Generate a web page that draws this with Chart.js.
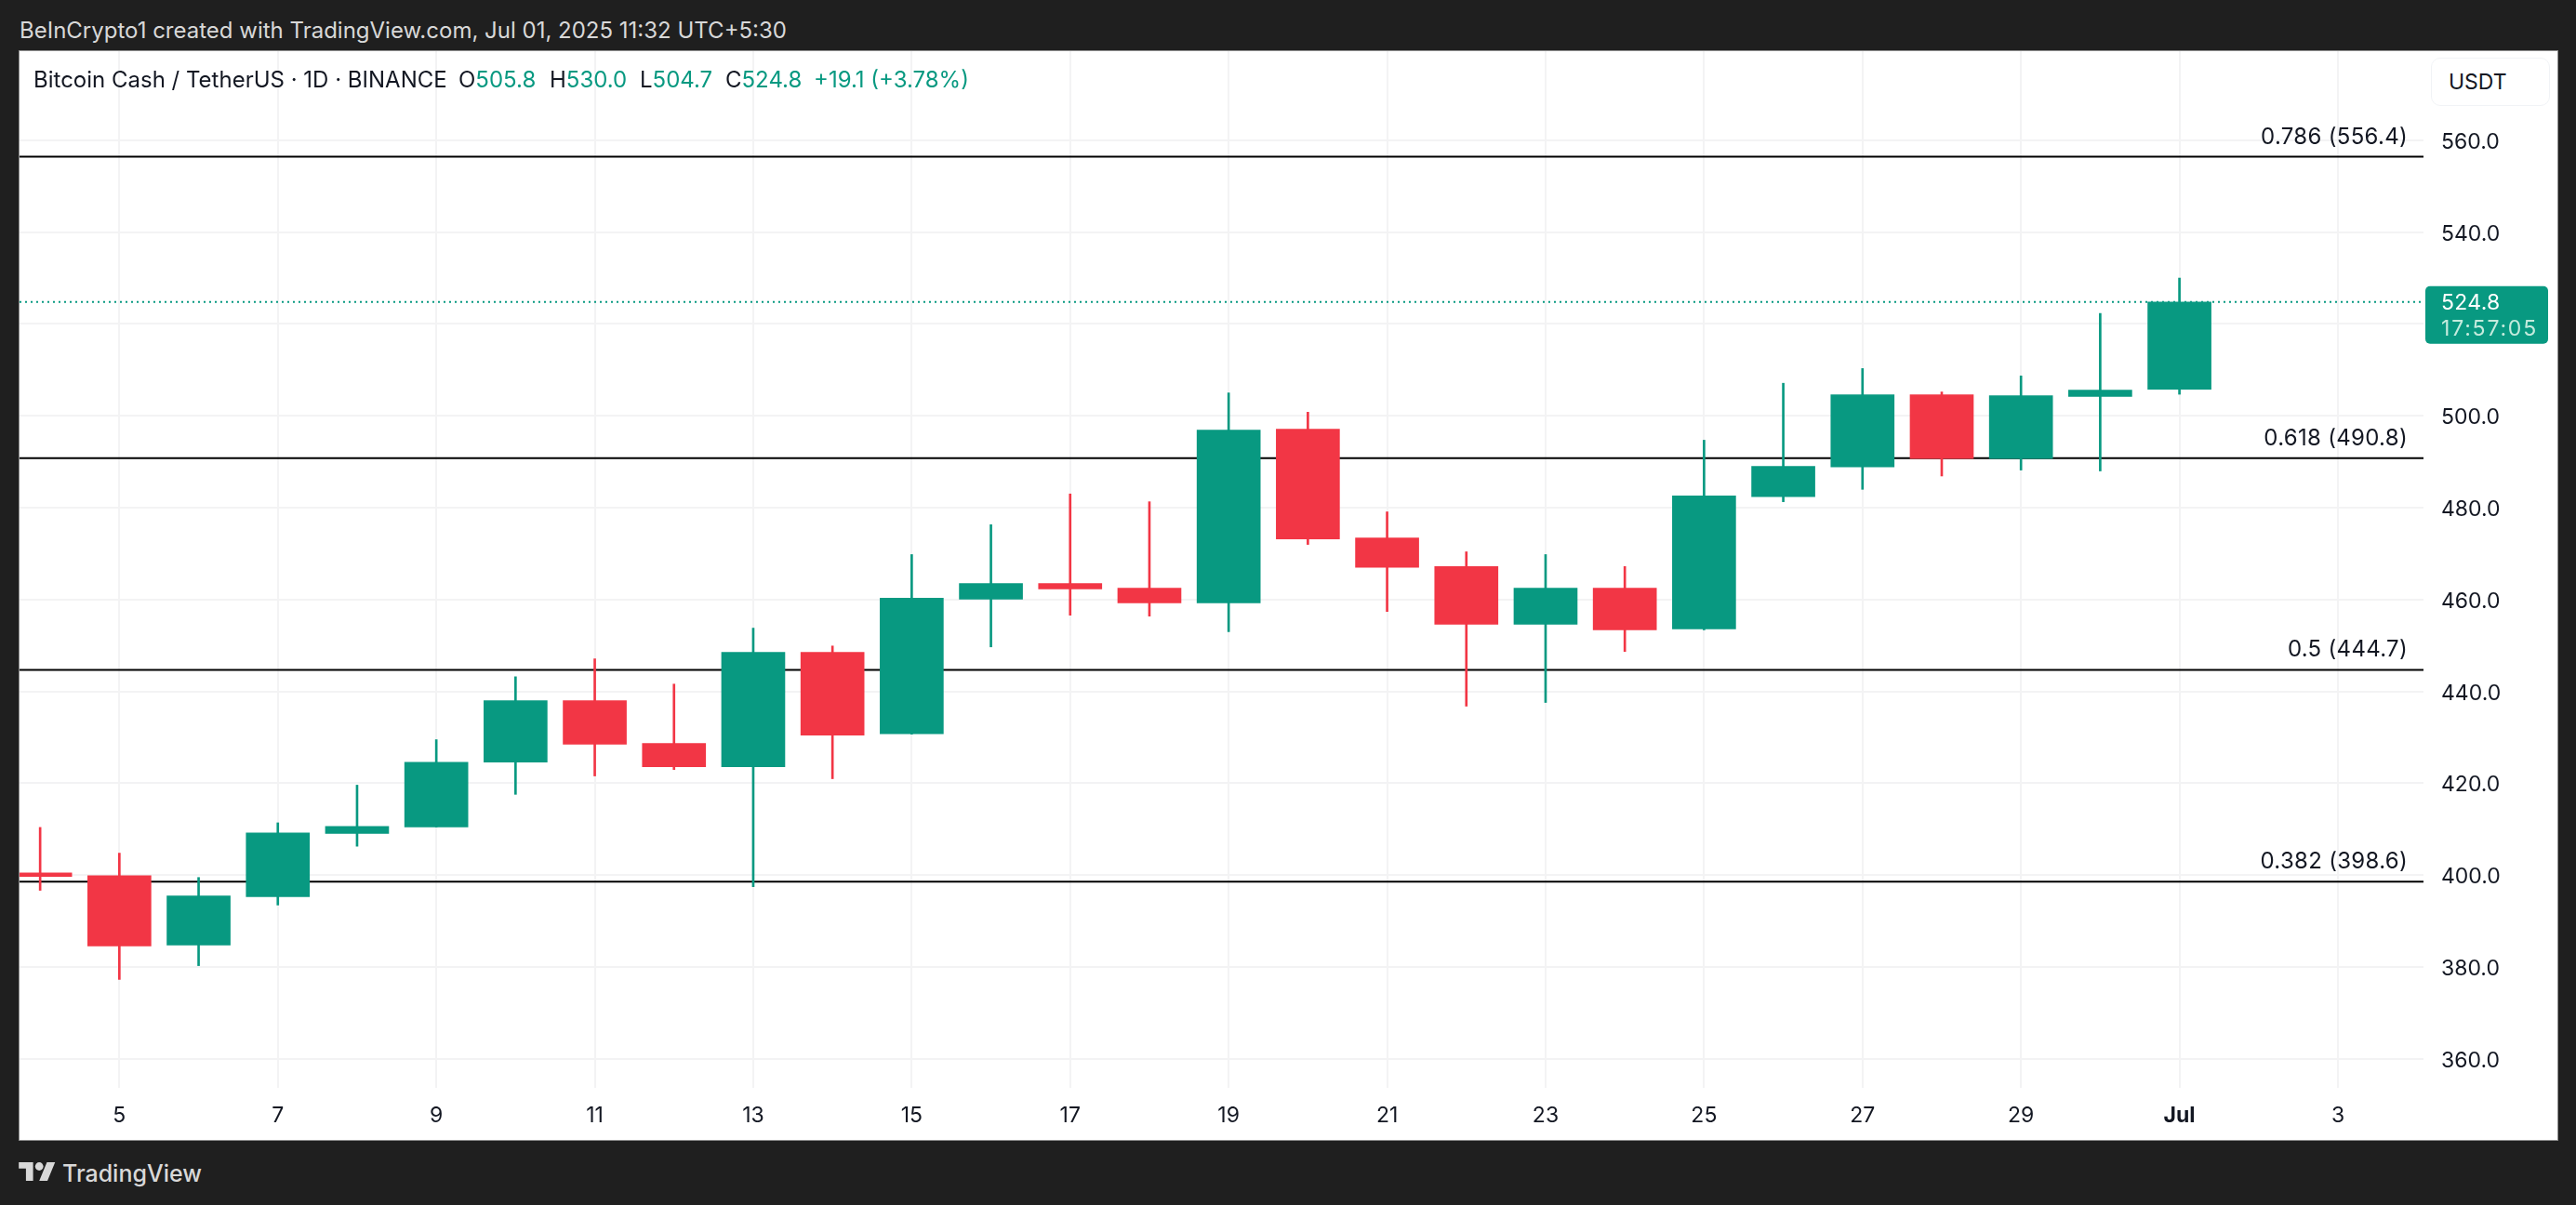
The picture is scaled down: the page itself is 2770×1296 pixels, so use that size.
<!DOCTYPE html>
<html>
<head>
<meta charset="utf-8">
<title>BCH/USDT</title>
<script src="https://cdn.jsdelivr.net/npm/chart.js@4"></script>
<style>
    html, body { margin: 0; padding: 0; }
    body { width: 2770px; height: 1296px; background: #1f1f1f; position: relative; overflow: hidden; font-family: Inter, sans-serif; }
    #panel { position: absolute; left: 20px; top: 54px; width: 2729px; height: 1171px; background: #fff; border: 1px solid #8c8c8c; }
    #price-chart { position: absolute; left: 0; top: 0; }
    .abs { position: absolute; white-space: nowrap; line-height: 28px; }
    .head { font-size: 24px; color: #131722; top: 72px; }
    .up { color: #089981; }
    #created { left: 21px; top: 19px; font-size: 24px; color: #d8d8d8; }
    #usdt { left: 2614px; top: 62px; width: 126px; height: 50px; border: 1px solid #f1f3f6; border-radius: 10px; background: #fff; }
    #usdt span { position: absolute; left: 18px; top: 11px; line-height: 28px; font-size: 23px; color: #131722; }
    #logo { position: absolute; left: 20px; top: 1249px; }
    #brand { left: 67px; top: 1248px; font-size: 25px; font-weight: 500; color: #d8d8d8; }
</style>
</head>
<body>
<div id="panel"><canvas id="price-chart" width="2729" height="1171"></canvas></div>
<div class="abs" id="created">BeInCrypto1 created with TradingView.com, Jul 01, 2025 11:32 UTC+5:30</div>
<div class="abs head" style="left:36px">Bitcoin Cash / TetherUS · 1D · BINANCE</div>
<div class="abs head" style="left:493px">O<span class="up">505.8</span></div>
<div class="abs head" style="left:591px">H<span class="up">530.0</span></div>
<div class="abs head" style="left:688px">L<span class="up">504.7</span></div>
<div class="abs head" style="left:780px">C<span class="up">524.8</span></div>
<div class="abs head up" style="left:875px">+19.1 (+3.78%)</div>
<div class="abs" id="usdt"><span>USDT</span></div>
<svg id="logo" width="40" height="22" viewBox="0 0 36 20"><path fill="#d8d8d8" d="M14 19H7V7H0V1h14v18zM28 19h-8l7.5-18h8L28 19z"/><circle fill="#d8d8d8" cx="20" cy="5" r="4"/></svg>
<div class="abs" id="brand">TradingView</div>

<script>
// Days counted from June, so 31 is Jul 1
const days   = [4, 5, 6, 7, 8, 9, 10, 11, 12, 13, 14, 15, 16, 17, 18, 19, 20, 21, 22, 23, 24, 25, 26, 27, 28, 29, 30, 31];
const opens  = [400.5, 399.9, 384.8, 395.3, 409.1, 410.5, 424.6, 438.0, 428.7, 423.6, 448.5, 430.8, 460.1, 463.5, 462.5, 459.3, 497.1, 473.4, 467.2, 454.6, 462.5, 453.6, 482.4, 488.9, 504.6, 490.7, 504.2, 505.8];
const highs  = [410.4, 404.8, 399.5, 411.4, 419.6, 429.5, 443.2, 447.1, 441.6, 453.8, 449.9, 469.8, 476.3, 483.0, 481.3, 505.0, 500.8, 479.1, 470.4, 469.8, 467.2, 494.7, 507.1, 510.3, 505.2, 508.7, 522.3, 530.0];
const lows   = [396.7, 377.3, 380.3, 393.5, 406.3, 410.5, 417.6, 421.6, 423.0, 397.5, 421.0, 430.7, 449.7, 456.6, 456.4, 453.0, 472.0, 457.4, 436.8, 437.6, 448.7, 453.4, 481.3, 484.0, 486.9, 488.2, 488.0, 504.7];
const closes = [399.7, 384.6, 395.5, 409.2, 410.6, 424.6, 438.0, 428.5, 423.6, 448.5, 430.5, 460.3, 463.5, 462.3, 459.3, 496.9, 473.2, 467.0, 454.6, 462.5, 453.4, 482.6, 489.0, 504.6, 490.7, 504.4, 505.6, 524.8];

const fibLevels = [556.4, 490.8, 444.7, 398.6];
const fibLabels = ['0.786 (556.4)', '0.618 (490.8)', '0.5 (444.7)', '0.382 (398.6)'];

const xTickDays   = [5, 7, 9, 11, 13, 15, 17, 19, 21, 23, 25, 27, 29, 31, 33];
const xTickLabels = ['5', '7', '9', '11', '13', '15', '17', '19', '21', '23', '25', '27', '29', 'Jul', '3'];
const yTicks = [360, 380, 400, 420, 440, 460, 480, 500, 520, 540, 560];

const lastPrice = 524.8;
const countdown = '17:57:05';

const xMin = 3.74, xMax = 34.08;
const yMin = 353.7, yMax = 579.4;

const UP = '#089981', DOWN = '#F23645', GRID = '#f3f3f4', TEXT = '#131722';
const FONT = 'Inter, sans-serif';

const candleColor = (ctx) => closes[ctx.dataIndex] >= opens[ctx.dataIndex] ? UP : DOWN;

// Labels hanging off the ends must not push the plot area inward
const noPadding = (axis) => {
    axis.paddingTop = 0;
    axis.paddingBottom = 0;
    axis.paddingLeft = 0;
    axis.paddingRight = 0;
};

// Fib level captions above the lines, last price tag on the price axis
const overlays = {
    id: 'overlays',
    afterDraw(chart) {
        const { ctx, chartArea, scales } = chart;
        ctx.save();
        ctx.font = '24px ' + FONT;
        ctx.letterSpacing = '0.3px';
        ctx.fillStyle = TEXT;
        ctx.textAlign = 'right';
        ctx.textBaseline = 'alphabetic';
        fibLevels.forEach((level, i) => {
            ctx.fillText(fibLabels[i], chartArea.right - 17, scales.y.getPixelForValue(level) - 14);
        });

        const y = scales.y.getPixelForValue(lastPrice);
        const left = chartArea.right + 2;
        ctx.fillStyle = UP;
        ctx.beginPath();
        ctx.roundRect(left, y - 17, 132, 62, 5);
        ctx.fill();
        ctx.textAlign = 'left';
        ctx.textBaseline = 'middle';
        ctx.font = '23px ' + FONT;
        ctx.fillStyle = '#ffffff';
        ctx.fillText(lastPrice.toFixed(1), left + 17, y + 1);
        ctx.letterSpacing = '1.8px';
        ctx.fillStyle = '#c4ebdd';
        ctx.fillText(countdown, left + 17, y + 29);
        ctx.restore();
    }
};

new Chart(document.getElementById('price-chart').getContext('2d'), {
    type: 'bar',
    data: {
        datasets: [
            {
                label: 'Last price',
                type: 'line',
                data: [{ x: xMin, y: lastPrice }, { x: xMax, y: lastPrice }],
                borderColor: UP,
                borderWidth: 2,
                borderDash: [2, 4],
                pointRadius: 0,
                order: 0
            },
            {
                label: 'Body',
                data: days.map((d, i) => ({ x: d, y: [opens[i], closes[i]] })),
                backgroundColor: candleColor,
                barThickness: 68,
                grouped: false,
                order: 1
            },
            {
                label: 'Wick',
                data: days.map((d, i) => ({ x: d, y: [lows[i], highs[i]] })),
                backgroundColor: candleColor,
                barThickness: 2,
                grouped: false,
                order: 2
            },
            ...fibLevels.map((level, i) => ({
                label: fibLabels[i],
                type: 'line',
                data: [{ x: xMin, y: level }, { x: xMax, y: level }],
                borderColor: '#000000',
                borderWidth: 2,
                pointRadius: 0,
                order: 3
            }))
        ]
    },
    options: {
        responsive: false,
        devicePixelRatio: 1,
        animation: false,
        events: [],
        layout: { padding: 0 },
        plugins: { legend: { display: false }, tooltip: { enabled: false } },
        scales: {
            x: {
                type: 'linear',
                offset: false,
                min: xMin,
                max: xMax,
                afterBuildTicks: (axis) => { axis.ticks = xTickDays.map(value => ({ value })); },
                afterFit: (axis) => { axis.height = 56; noPadding(axis); },
                grid: { color: GRID, lineWidth: 2, drawTicks: false, offset: false },
                border: { display: false },
                ticks: {
                    padding: 16,
                    maxRotation: 0,
                    autoSkip: false,
                    color: TEXT,
                    font: (ctx) => ({ family: FONT, size: 23, weight: xTickLabels[ctx.index] === 'Jul' ? '700' : '400' }),
                    callback: (value, index) => xTickLabels[index]
                }
            },
            y: {
                position: 'right',
                min: yMin,
                max: yMax,
                afterBuildTicks: (axis) => { axis.ticks = yTicks.map(value => ({ value })); },
                afterFit: (axis) => { axis.width = 144; noPadding(axis); },
                grid: { color: GRID, lineWidth: 2, drawTicks: false },
                border: { display: false },
                ticks: {
                    padding: 19,
                    labelOffset: 2,
                    autoSkip: false,
                    color: TEXT,
                    font: { family: FONT, size: 23 },
                    // the 520 label sits under the price tag
                    callback: (value) => value === 520 ? '' : value.toFixed(1)
                }
            }
        }
    },
    plugins: [overlays]
});
</script>
</body>
</html>
